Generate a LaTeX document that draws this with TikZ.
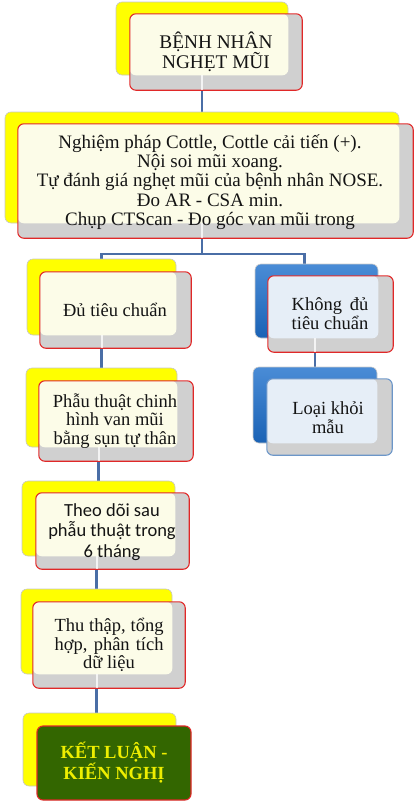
\documentclass[tikz,border=0pt]{standalone}
\usepackage{fontspec}
\setmainfont{Liberation Serif}
\newfontfamily\calib{Carlito}
\usetikzlibrary{fit}
\definecolor{connblue}{HTML}{4A6EA6}
\definecolor{shadowg}{HTML}{D0D0D0}
\definecolor{creamy}{HTML}{FCFCE8}
\definecolor{creamb}{HTML}{E6EEF7}
\definecolor{redb}{HTML}{E02828}
\definecolor{blueL}{HTML}{4A8CD6}
\definecolor{blueD}{HTML}{1A62B5}
\definecolor{greenk}{HTML}{336600}
\definecolor{txt}{HTML}{141414}
\definecolor{yel}{HTML}{FFFF00}
\definecolor{yeltxt}{HTML}{EEEE00}
\definecolor{blueedge}{HTML}{6C96C8}
\newlength\wl
\pgfdeclarelayer{bg}
\pgfsetlayers{bg,main}
\tikzset{
  conn/.style={draw=connblue, line width=2.8pt},
  glint/.style={draw=white, line width=2pt, opacity=0.75},
  backY/.style={draw=gray!45, line width=0.6pt, fill=yel, rounded corners=6pt, inner sep=0pt},
  backB/.style={draw=gray!40, line width=0.6pt, top color=blueL, bottom color=blueD, rounded corners=6pt, inner sep=0pt},
  frontg/.style={fill=shadowg, rounded corners=6pt, inner sep=0pt},
  lbl/.style={align=center, text=txt, inner sep=0pt, font={\fontsize{18.5}{19}\selectfont}},
}
\newcommand\pairbox[6]{%
  \node[#2, fit={#3}] (#1k) {};
  \node[frontg, fit={#4}] (#1f) {};
  \fill[#5, rounded corners=6pt] (#1f.north west) rectangle (#1k.south east);
  \draw[#6, line width=1.1pt, rounded corners=6pt] (#1f.north west) rectangle (#1f.south east);
}
\begin{document}
\begin{tikzpicture}[x=1pt,y=-1pt]
\useasboundingbox (0,0) rectangle (416,803);
% boxes
\pairbox{b1}{backY}{(116,2) (288,75)}{(130,14) (302,90)}{creamy}{redb}
\pairbox{b2}{backY}{(5,112) (399,223)}{(18,124) (413,238)}{creamy}{redb}
\pairbox{a}{backY}{(27,259) (176,335)}{(40,272) (191,348)}{creamy}{redb}
\pairbox{n}{backB}{(255,264) (378,338)}{(268,276) (393,352)}{creamb}{redb}
\pairbox{p}{backY}{(26,368) (177,447)}{(39,381) (193,461)}{creamy}{redb}
\pairbox{l}{backB}{(253,367) (377,443)}{(267,379) (392,455)}{creamb}{blueedge}
\pairbox{t}{backY}{(22,481) (175,556)}{(36,493) (189,569)}{creamy}{redb}
\pairbox{h}{backY}{(21,589) (172,674)}{(33,602) (185,688)}{creamy}{redb}
\node[backY, fit={(23,713) (176,786)}] (kk) {};
\node[fill=greenk, draw=redb, line width=1.1pt, rounded corners=6pt, inner sep=0pt, fit={(37,726) (191,800)}] (kf) {};
% connectors
\coordinate (j) at (202,254);
\begin{pgfonlayer}{bg}
\draw[conn] (b1k.south) -- (b2k.north);
\draw[conn] (b2k.south) -- (j);
\draw[conn] (j) -| (ak.north);
\draw[conn] (j) -| ([xshift=-12pt]nk.north);
\draw[conn] (ak.south) -- (ak.south |- pk.north);
\draw[conn] (lk.north) -- (lk.north |- nk.south);
\draw[conn] (tk.north) -- (tk.north |- pk.south);
\draw[conn] (hk.north) -- (hk.north |- tk.south);
\draw[conn] (hk.south) -- (hk.south |- kk.north);
\end{pgfonlayer}
% glints through the shadows
\draw[glint] (b1k.south) -- (b1k.south |- b1f.south);
\draw[glint] (b2k.south) -- (b2k.south |- b2f.south);
\draw[glint] (ak.south) -- (ak.south |- af.south);
\draw[glint] (lk.north |- nk.south) -- (lk.north |- nf.south);
\draw[glint] (tk.north |- pk.south) -- (tk.north |- pf.south);
\draw[glint] (hk.north |- tk.south) -- (hk.north |- tf.south);
\draw[glint] (hk.south) -- (hk.south |- hf.south);
% texts
\node[lbl, font={\fontsize{19.3}{18}\selectfont}] (t1) at (216,52) {BỆNH NHÂN\\NGHẸT MŨI};
\node[lbl, font={\fontsize{19}{19.4}\selectfont}] (t2) at (210,182) {Nghiệm pháp Cottle, Cottle cải tiến (+).\\Nội soi mũi xoang.\\Tự đánh giá nghẹt mũi của bệnh nhân NOSE.\\Đo AR - CSA min.\\Chụp CTScan - Đo góc van mũi trong};
\node[lbl] (ta) at (115,310) {Đủ tiêu chuẩn};
\node[lbl] (tn) at (330,314) {\settowidth\wl{tiêu chuẩn}\makebox[\wl][s]{Không đủ}\\tiêu chuẩn};
\node[lbl, font={\fontsize{18.5}{18.3}\selectfont}] (tp) at (115,421) {Phẫu thuật chinh\\hình van mũi\\bằng sụn tự thân};
\node[lbl] (tl) at (328,418) {Loại khỏi\\mẫu};
\node[lbl, font={\calib\fontsize{18.5}{20.5}\selectfont}] (tt) at (112,532) {Theo dõi sau\\phẫu thuật trong\\6 tháng};
\node[lbl, font={\fontsize{18.5}{18.7}\selectfont}] (th) at (109,645) {\makebox[109pt][s]{Thu thập, tổng}\\\makebox[109pt][s]{hợp, phân tích}\\dữ liệu};
\node[lbl, text=yeltxt, font={\bfseries\fontsize{18.5}{20}\selectfont}] (tk) at (114,763) {KẾT LUẬN -\\KIẾN NGHỊ};
\end{tikzpicture}
\end{document}
